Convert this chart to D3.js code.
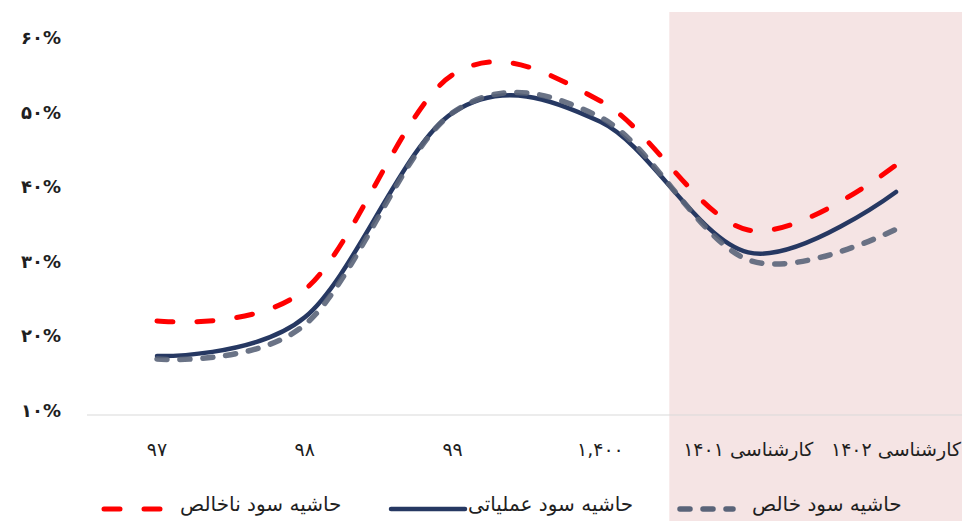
<!DOCTYPE html>
<html lang="fa">
<head>
  <meta charset="UTF-8" />
  <title>Profit margins</title>
  <style>
    body { margin: 0; background: #fff; }
    svg text { font-family: "DejaVu Sans", sans-serif; fill: #1f1f1f; }
  </style>
</head>
<body>
  <svg id="chart"></svg>

  <script src="https://d3js.org/d3.v7.min.js"></script>
  <script>
    const categories = ["۹۷", "۹۸", "۹۹", "۱,۴۰۰", "کارشناسی ۱۴۰۱", "کارشناسی ۱۴۰۲"];
    const grossMargin = [22.6, 26.8, 55.6, 52.1, 34.8, 43.5];
    const operatingMargin = [17.9, 23.1, 50.5, 49.3, 31.8, 39.9];
    const netMargin = [17.5, 22.1, 50.5, 49.9, 30.8, 34.9];
    const yTicks = [10, 20, 30, 40, 50, 60];
    const forecastFrom = 4; // index of first forecast category

    const seriesNames = ["حاشیه سود ناخالص", "حاشیه سود عملیاتی", "حاشیه سود خالص"];

    const toFa = s => String(s).replace(/\d/g, d => "۰۱۲۳۴۵۶۷۸۹"[d]);

    const W = 964, H = 521;
    const svg = d3.select("#chart").attr("width", W).attr("height", H);

    const x = d3.scalePoint().domain(categories).range([157, 896]);
    const y = d3.scaleLinear().domain([10, 60]).range([415, 42]);

    // shaded forecast area
    const shadeLeft = (x(categories[forecastFrom - 1]) + x(categories[forecastFrom])) / 2 - 5;
    svg.append("rect")
      .attr("x", shadeLeft)
      .attr("y", 12)
      .attr("width", 962 - shadeLeft)
      .attr("height", H - 12)
      .attr("fill", "#f5e4e4");

    // base axis line
    svg.append("line")
      .attr("x1", 87).attr("x2", 962)
      .attr("y1", y(10)).attr("y2", y(10))
      .attr("stroke", "#d9d9d9").attr("stroke-width", 1);

    // y labels
    svg.selectAll(".ytick")
      .data(yTicks)
      .join("text")
      .attr("class", "ytick")
      .attr("x", 61)
      .attr("y", d => y(d) - 3)
      .attr("dominant-baseline", "middle")
      .attr("text-anchor", "end")
      .style("font-size", "18px")
      .style("font-weight", "bold")
      .text(d => toFa(d) + "%");

    // x labels
    svg.selectAll(".xtick")
      .data(categories)
      .join("text")
      .attr("class", "xtick")
      .attr("x", d => x(d))
      .attr("y", 450)
      .attr("dominant-baseline", "middle")
      .attr("text-anchor", "middle")
      .style("font-size", "19px")
      .text(d => d);

    const styles = [
      { data: grossMargin, color: "#ff0000", width: 5, dash: "16,24" },
      { data: operatingMargin, color: "#263862", width: 4.5, dash: null },
      { data: netMargin, color: "#5a6479", width: 5.5, dash: "10,13", opacity: 0.9 }
    ];

    const line = d3.line()
      .x((d, i) => x(categories[i]))
      .y(d => y(d))
      .curve(d3.curveCatmullRom.alpha(0));

    styles.forEach(s => {
      svg.append("path")
        .datum(s.data)
        .attr("d", line)
        .attr("fill", "none")
        .attr("stroke", s.color)
        .attr("stroke-width", s.width)
        .attr("stroke-linecap", "round")
        .attr("stroke-dasharray", s.dash)
        .attr("opacity", s.opacity || 1);
    });

    // legend
    const legendItems = [
      { name: seriesNames[0], s: styles[0], x0: 104, x1: 167, tx: 180 },
      { name: seriesNames[1], s: styles[1], x0: 391, x1: 465, tx: 468 },
      { name: seriesNames[2], s: styles[2], x0: 680, x1: 733, tx: 752 }
    ];
    const ly = 509;
    legendItems.forEach(it => {
      svg.append("line")
        .attr("x1", it.x0).attr("x2", it.x1)
        .attr("y1", ly).attr("y2", ly)
        .attr("stroke", it.s.color)
        .attr("stroke-width", it.s.width)
        .attr("stroke-linecap", "round")
        .attr("stroke-dasharray", it.s.dash);
      svg.append("text")
        .attr("x", it.tx)
        .attr("y", ly - 4)
        .attr("dominant-baseline", "middle")
        .style("font-size", "20px")
        .text(it.name);
    });
  </script>
</body>
</html>
